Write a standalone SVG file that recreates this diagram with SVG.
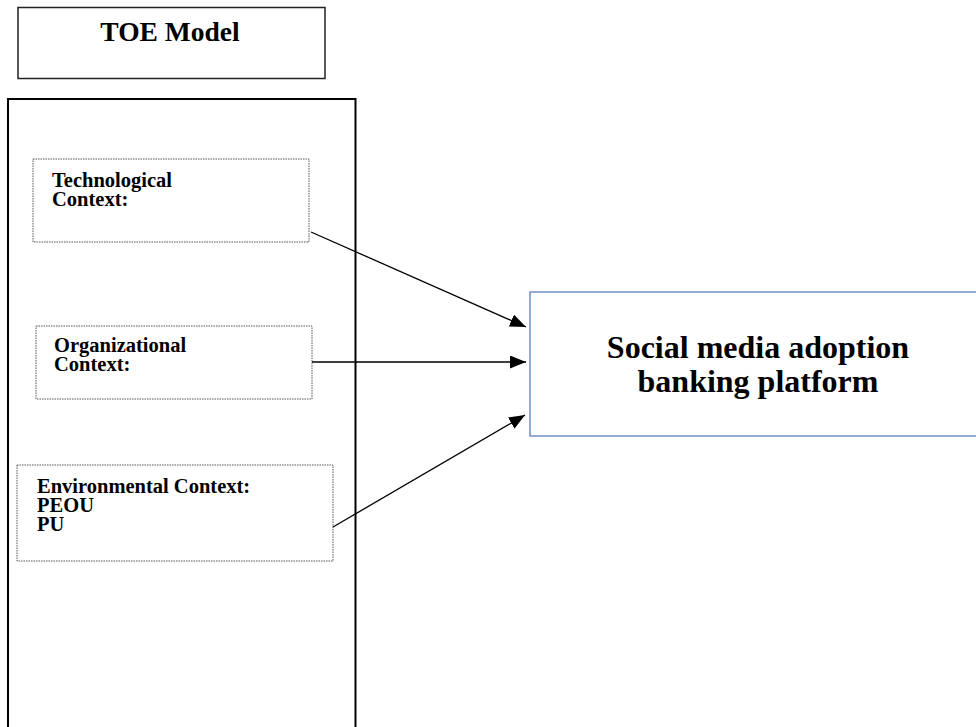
<svg xmlns="http://www.w3.org/2000/svg" width="976" height="727" viewBox="0 0 976 727">
<style>
  text { font-family: "Liberation Serif", "Times New Roman", serif; font-weight: bold; fill: #000; }
  .small { font-size: 20.5px; }
  .dotted { fill: #fff; stroke: #555; stroke-width: 1; stroke-dasharray: 1.5 1; }
  .conn { stroke: #000; stroke-width: 1.3; fill: none; marker-end: url(#arr); }
</style>
<defs>
  <marker id="arr" markerWidth="16" markerHeight="13" refX="16" refY="6.5" orient="auto" markerUnits="userSpaceOnUse">
    <path d="M0,0 L16,6.5 L0,13 Z" fill="#000"/>
  </marker>
</defs>
<rect width="976" height="727" fill="#fff"/>
<g id="toe-title">
  <rect x="18" y="7.5" width="307" height="71" fill="#fff" stroke="#222" stroke-width="1.5"/>
  <text x="170" y="41" font-size="27.5" text-anchor="middle">TOE Model</text>
</g>
<g id="toe-container">
  <rect x="8" y="99" width="347.5" height="640" fill="none" stroke="#000" stroke-width="2"/>
</g>
<g id="technological">
  <rect class="dotted" x="33" y="159" width="276" height="83"/>
  <text class="small" x="52" y="186.5">Technological</text>
  <text class="small" x="52" y="205.5">Context:</text>
</g>
<g id="organizational">
  <rect class="dotted" x="36" y="326" width="276" height="73"/>
  <text class="small" x="54" y="351.5">Organizational</text>
  <text class="small" x="54" y="370.5">Context:</text>
</g>
<g id="environmental">
  <rect class="dotted" x="17" y="465" width="316" height="96"/>
  <text class="small" x="37" y="492.5">Environmental Context:</text>
  <text class="small" x="37" y="511.5">PEOU</text>
  <text class="small" x="37" y="530.5">PU</text>
</g>
<g id="adoption">
  <rect x="530" y="292" width="460" height="144" fill="#fff" stroke="#5a7dbf" stroke-width="1.3"/>
  <text x="758" y="358" font-size="32" text-anchor="middle">Social media adoption</text>
  <text x="758" y="392" font-size="32" text-anchor="middle">banking platform</text>
</g>
<g id="connectors">
  <line class="conn" x1="311" y1="232" x2="526" y2="327"/>
  <line class="conn" x1="312" y1="362" x2="526" y2="362"/>
  <line class="conn" x1="333" y1="527" x2="525" y2="415"/>
</g>
</svg>
